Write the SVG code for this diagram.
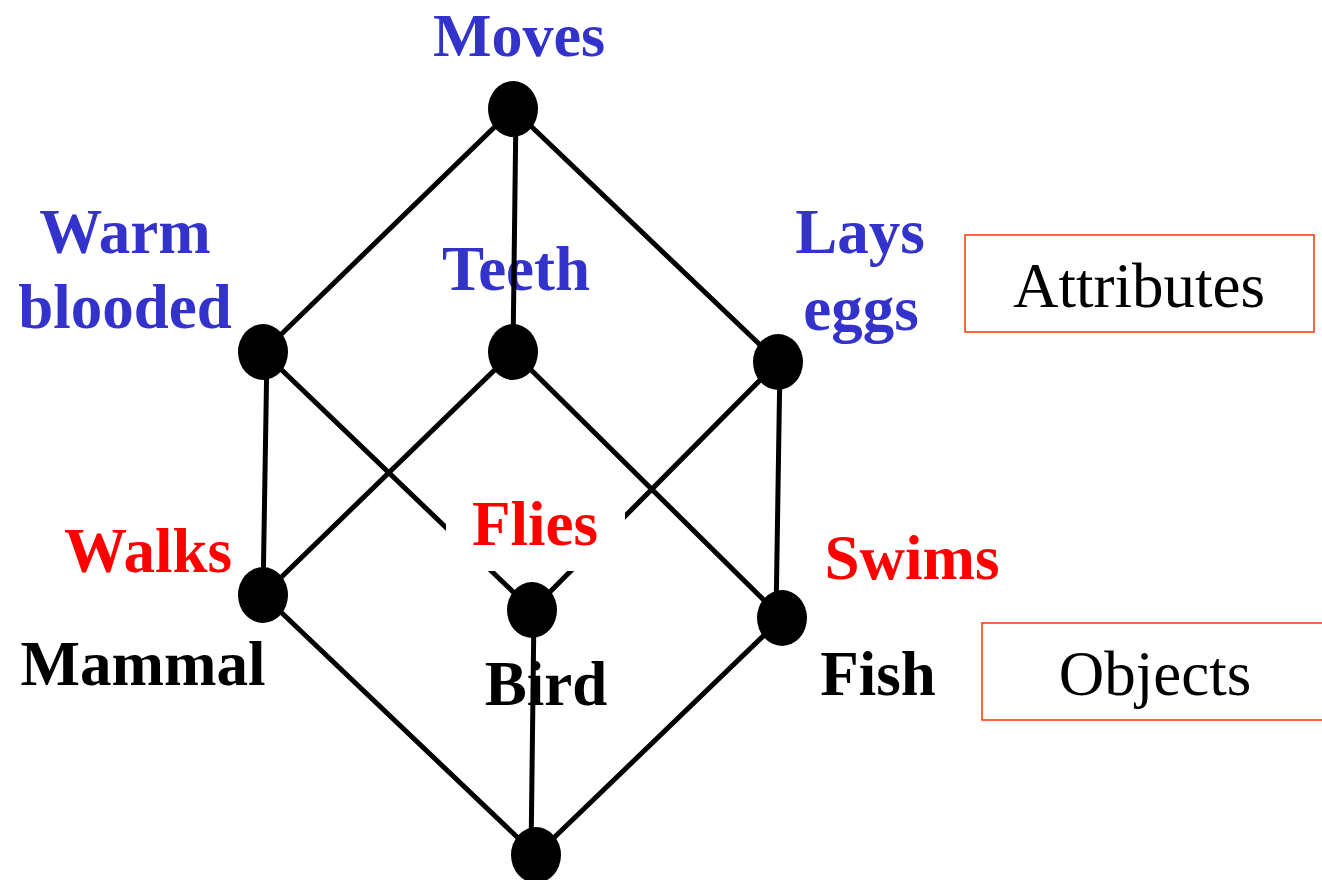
<svg xmlns="http://www.w3.org/2000/svg" width="1322" height="880" viewBox="0 0 1322 880">
<style>
.lbl{font-family:"Liberation Serif","Times New Roman",serif;font-weight:bold;font-size:63px;text-anchor:middle}
.attr{fill:#3333CC}
.obj-red{fill:#FF0000}
.obj{fill:#000000}
.edge{stroke:#000;stroke-width:5;fill:none}
.node{fill:#000}
.legend rect{fill:#fff;stroke:#FF3300;stroke-width:1.5}
.legend text{font-family:"Liberation Serif","Times New Roman",serif;font-size:63px;text-anchor:middle;fill:#000}
</style>
<rect width="1322" height="880" fill="#fff"/>
<g id="labels-under">
<text class="lbl attr" x="516" y="290">Teeth</text>
<text class="lbl obj" x="546" y="705">Bird</text>
</g>
<g id="connectors">
<line class="edge" x1="513" y1="109" x2="263" y2="352"/>
<line class="edge" x1="516" y1="109" x2="513" y2="352"/>
<line class="edge" x1="513" y1="109" x2="778" y2="362"/>
<line class="edge" x1="267" y1="352" x2="263" y2="595"/>
<line class="edge" x1="263" y1="352" x2="532" y2="610"/>
<line class="edge" x1="513" y1="352" x2="263" y2="595"/>
<line class="edge" x1="513" y1="352" x2="782" y2="618"/>
<line class="edge" x1="778" y1="362" x2="532" y2="610"/>
<line class="edge" x1="780" y1="362" x2="776" y2="618"/>
<line class="edge" x1="263" y1="595" x2="536" y2="855"/>
<line class="edge" x1="534" y1="610" x2="531" y2="855"/>
<line class="edge" x1="782" y1="618" x2="536" y2="855"/>
</g>
<g id="flies">
<rect x="446" y="495" width="179" height="76" fill="#fff"/>
<text class="lbl obj-red" x="535" y="545">Flies</text>
</g>
<g id="moves"><ellipse class="node" cx="513" cy="109" rx="25" ry="28"/><text class="lbl attr" x="519" y="56" style="font-size:62px">Moves</text></g>
<g id="warm-blooded"><ellipse class="node" cx="263" cy="352" rx="25" ry="28"/><text class="lbl attr" x="125" y="253">Warm</text><text class="lbl attr" x="125" y="328">blooded</text></g>
<g id="teeth"><ellipse class="node" cx="513" cy="352" rx="25" ry="28"/></g>
<g id="lays-eggs"><ellipse class="node" cx="778" cy="362" rx="25" ry="28"/><text class="lbl attr" x="860" y="253">Lays</text><text class="lbl attr" x="861" y="330">eggs</text></g>
<g id="mammal"><ellipse class="node" cx="263" cy="595" rx="25" ry="28"/><text class="lbl obj-red" x="148" y="572">Walks</text><text class="lbl obj" x="143" y="685">Mammal</text></g>
<g id="bird"><ellipse class="node" cx="532" cy="610" rx="25" ry="28"/></g>
<g id="fish"><ellipse class="node" cx="782" cy="618" rx="25" ry="28"/><text class="lbl obj-red" x="912" y="579">Swims</text><text class="lbl obj" x="878" y="695">Fish</text></g>
<g id="bottom"><ellipse class="node" cx="536" cy="855" rx="25" ry="28"/></g>
<g id="legend-attributes" class="legend"><rect x="965" y="235" width="349" height="97"/><text x="1139" y="307">Attributes</text></g>
<g id="legend-objects" class="legend"><rect x="982" y="623" width="345" height="97"/><text x="1155" y="695">Objects</text></g>
</svg>
